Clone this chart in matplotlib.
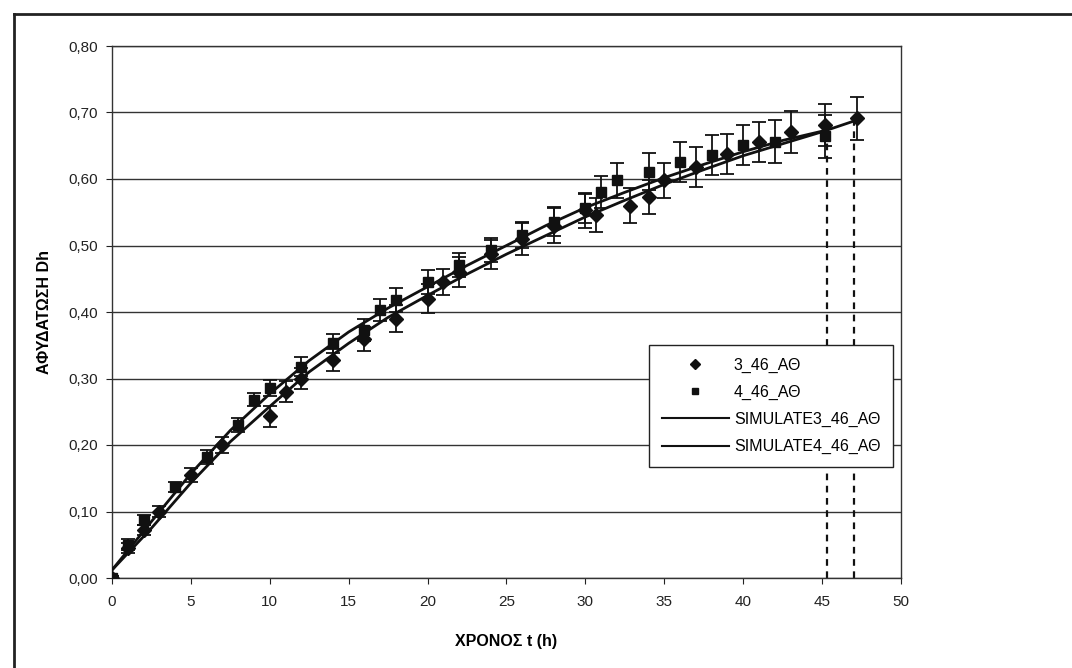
import matplotlib
matplotlib.use('Agg')
from matplotlib import pyplot as plt
from matplotlib.lines import Line2D
import numpy as np

plt.rcParams['font.family'] = ['Liberation Sans', 'DejaVu Sans']

# measured points, series 3_46_ΑΘ (diamonds)
t_3 = [0, 1, 2, 3, 5, 7, 10, 11, 12, 14, 16, 18, 20, 21, 22, 24, 26, 28, 30, 30.7, 32.8, 34, 35, 37, 39, 41, 43, 45.2, 47.2]
dh_3 = [0.0, 0.045, 0.072, 0.10, 0.155, 0.20, 0.243, 0.28, 0.30, 0.328, 0.36, 0.39, 0.42, 0.445, 0.46, 0.487, 0.51, 0.53, 0.553, 0.546,
        0.56, 0.573, 0.598, 0.618, 0.638, 0.656, 0.671, 0.681, 0.691]
err_3 = [0.003, 0.008, 0.008, 0.008, 0.01, 0.012, 0.016, 0.016, 0.016, 0.016, 0.018, 0.02, 0.022, 0.02, 0.022, 0.022, 0.024, 0.026, 0.026, 0.026,
         0.026, 0.026, 0.026, 0.03, 0.03, 0.03, 0.032, 0.032, 0.032]

# measured points, series 4_46_ΑΘ (squares)
t_4 = [0, 1, 2, 4, 6, 8, 9, 10, 12, 14, 16, 17, 18, 20, 22, 24, 26, 28, 30, 31, 32, 34, 36, 38, 40, 42, 45.2]
dh_4 = [0.0, 0.05, 0.087, 0.137, 0.182, 0.23, 0.268, 0.285, 0.318, 0.353, 0.373, 0.403, 0.418, 0.445, 0.47, 0.493, 0.516, 0.536,
        0.556, 0.581, 0.598, 0.611, 0.626, 0.636, 0.651, 0.656, 0.664]
err_4 = [0.003, 0.008, 0.008, 0.008, 0.01, 0.01, 0.01, 0.012, 0.014, 0.014, 0.016, 0.016, 0.018, 0.018, 0.018, 0.018, 0.02, 0.022,
         0.022, 0.024, 0.026, 0.028, 0.03, 0.03, 0.03, 0.032, 0.032]

# simulated curves
t_sim3 = [0, 2.5, 5, 7.5, 10, 12.5, 15, 17.5, 20, 22.5, 25, 27.5, 30, 32.5, 35, 37.5, 40, 42.5, 45, 47]
dh_sim3 = [0.012, 0.075, 0.143, 0.205, 0.258, 0.31, 0.353, 0.392, 0.425, 0.457, 0.487, 0.515, 0.543, 0.568, 0.592, 0.614,
           0.635, 0.653, 0.671, 0.687]
t_sim4 = [0, 2.5, 5, 7.5, 10, 12.5, 15, 17.5, 20, 22.5, 25, 27.5, 30, 32.5, 35, 37.5, 40, 42.5, 45.2]
dh_sim4 = [0.012, 0.085, 0.157, 0.222, 0.277, 0.327, 0.37, 0.406, 0.438, 0.47, 0.50, 0.53, 0.557, 0.58, 0.602, 0.622,
           0.641, 0.658, 0.673]

# end times marked by dashed lines
t_end = [45.3, 47.0]
dh_end = [0.68, 0.69]

fig = plt.figure(figsize=(10.72, 6.68), dpi=100)
ax = fig.add_axes([112 / 1072, 1 - 578 / 668, (901 - 112) / 1072, (578 - 46) / 668])

ax.plot(t_sim3, dh_sim3, '-', c='#111111', lw=2, zorder=3)
ax.plot(t_sim4, dh_sim4, '-', c='#111111', lw=2, zorder=3)
ax.errorbar(t_3, dh_3, yerr=err_3, fmt='D', c='#111111', ms=7, capsize=5, elinewidth=1.3, capthick=1.3, zorder=4)
ax.errorbar(t_4, dh_4, yerr=err_4, fmt='s', c='#111111', ms=6.5, capsize=5, elinewidth=1.3, capthick=1.3, zorder=4)

for te, de in zip(t_end, dh_end):
    ax.plot([te, te], [0, de], ls=(0, (3, 2.5)), c='#111111', lw=1.6, zorder=2)

ax.set_xlim(0, 50)
ax.set_ylim(0, 0.8)
ax.set_xticks(np.arange(0, 51, 5))
ax.set_yticks(np.arange(0, 0.81, 0.1))
ax.set_yticklabels([f'{v:.2f}'.replace('.', ',') for v in np.arange(0, 0.81, 0.1)])
ax.yaxis.grid(True, c='#333333', lw=1)
ax.set_axisbelow(True)
ax.tick_params(direction='out', length=4, labelsize=11, colors='#222222')
ax.tick_params(axis='x', pad=8)
ax.tick_params(axis='y', pad=6)
for s in ax.spines.values():
    s.set_color('#333333')
    s.set_linewidth(1)

ax.set_xlabel('ΧΡΟΝΟΣ t (h)', fontsize=11.5, fontweight='bold', labelpad=18)
ax.set_ylabel('ΑΦΥΔΑΤΩΣΗ Dh', fontsize=11.5, fontweight='bold', labelpad=12)

handles = [
    Line2D([], [], ls='none', marker='D', c='#111111', ms=5),
    Line2D([], [], ls='none', marker='s', c='#111111', ms=5),
    Line2D([], [], c='#111111', lw=1.5),
    Line2D([], [], c='#111111', lw=1.5),
]
labels = ['3_46_ΑΘ', '4_46_ΑΘ', 'SIMULATE3_46_ΑΘ', 'SIMULATE4_46_ΑΘ']
leg = ax.legend(handles, labels, loc='upper right', bbox_to_anchor=(0.99, 0.438), borderaxespad=0,
                fontsize=11.5, frameon=True, fancybox=False, edgecolor='#222222', framealpha=1,
                handlelength=4.2, handletextpad=0.3, labelspacing=0.75, borderpad=0.8)
leg.get_frame().set_linewidth(1)
leg.set_zorder(5)

# scanned page border
fig.add_artist(Line2D([14 / 1072, 1], [1 - 14 / 668, 1 - 14 / 668], c='#222222', lw=2))
fig.add_artist(Line2D([14 / 1072, 14 / 1072], [0, 1 - 14 / 668], c='#222222', lw=2))

fig.savefig('out.png', dpi=100)
